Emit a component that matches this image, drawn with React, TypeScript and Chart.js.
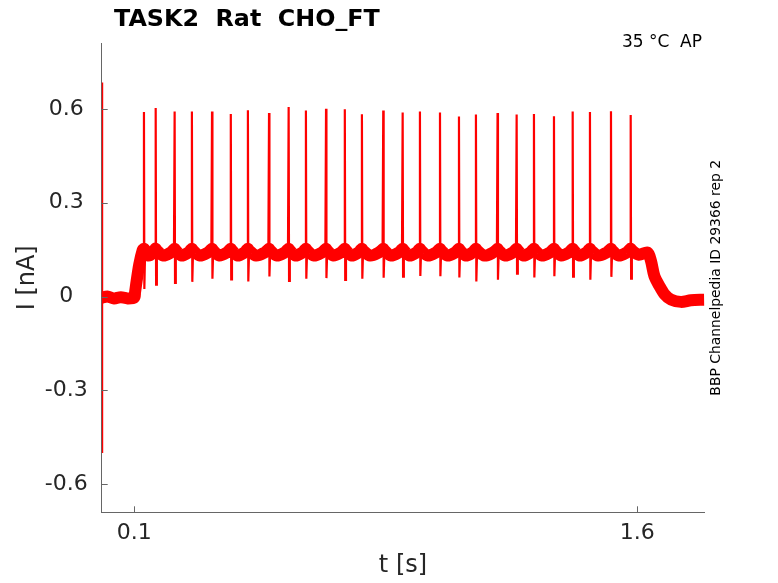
import React, { useEffect, useRef } from 'react';
import { Chart, registerables } from 'chart.js';

Chart.register(...registerables);

// ---- axis ranges & ticks ----
const X_MIN = 0.003;
const X_MAX = 1.8;
const Y_MIN = -0.69;
const Y_MAX = 0.81;
const xTickValues = [0.1, 1.6];
const yTickValues = [0.6, 0.3, 0, -0.3, -0.6];

// ---- action potential spikes: times [s], peak and trough currents [nA] ----
const spikeTimes = [
  0.129, 0.164, 0.2205, 0.272, 0.332, 0.388, 0.439, 0.502, 0.5605, 0.612, 0.672, 0.728, 0.779,
  0.8426, 0.9005, 0.952, 1.0118, 1.0684, 1.119, 1.1835, 1.2404, 1.292, 1.3517, 1.4075, 1.459,
  1.5217, 1.5805,
];
const spikePeaks = [
  0.59, 0.603, 0.592, 0.592, 0.592, 0.584, 0.596, 0.587, 0.606, 0.595, 0.601, 0.599, 0.583,
  0.595, 0.589, 0.592, 0.589, 0.576, 0.582, 0.587, 0.582, 0.584, 0.577, 0.592, 0.59, 0.593,
  0.581,
];
const spikeTroughs = [
  0.024, 0.038, 0.044, 0.047, 0.057, 0.055, 0.048, 0.064, 0.05, 0.057, 0.059, 0.053, 0.057,
  0.06, 0.064, 0.066, 0.065, 0.061, 0.048, 0.054, 0.073, 0.061, 0.065, 0.064, 0.054, 0.063,
  0.057,
];

// ---- slow current trace (baseline band) ----
const preStepTimes = [0.003, 0.02, 0.04, 0.06, 0.08, 0.1];
const preStepValues = [-0.004, 0.0, -0.006, -0.002, -0.006, -0.003];
const stepUpTimes = [0.1024, 0.1072, 0.115, 0.1251];
const stepUpValues = [0.013, 0.05, 0.103, 0.148];
const endTimes = [1.586, 1.605, 1.631, 1.641, 1.651, 1.666, 1.681, 1.701, 1.73, 1.76, 1.8];
const endValues = [0.146, 0.134, 0.141, 0.114, 0.066, 0.034, 0.008, -0.01, -0.017, -0.012, -0.01];
// levels of the inter-spike waveform
const AFTER_SPIKE = 0.147;
const DIP = 0.131;
const PRE_SPIKE = 0.141;
const BUMP = 0.153;

// ---- initial capacitive transient ----
const transientTimes = [0.0045, 0.005, 0.0056];
const transientValues = [0.685, -0.5, 0.0];

const RED = '#ff0000';
const FONT = 'DejaVu Sans';

function buildBand() {
  const pts: { x: number; y: number }[] = [];
  preStepTimes.forEach((t, i) => pts.push({ x: t, y: preStepValues[i] }));
  stepUpTimes.forEach((t, i) => pts.push({ x: t, y: stepUpValues[i] }));
  for (let i = 0; i < spikeTimes.length; i++) {
    const t = spikeTimes[i];
    pts.push({ x: t, y: BUMP });
    if (i < spikeTimes.length - 1) {
      const tn = spikeTimes[i + 1];
      const gap = tn - t;
      pts.push({ x: t + 0.004, y: AFTER_SPIKE });
      pts.push({ x: t + gap * 0.4, y: DIP });
      pts.push({ x: tn - gap * 0.2, y: PRE_SPIKE });
      pts.push({ x: tn - 0.003, y: BUMP - 0.003 });
    }
  }
  endTimes.forEach((t, i) => pts.push({ x: t, y: endValues[i] }));
  return pts;
}

function buildSpikes() {
  const pts: { x: number; y: number | null }[] = [];
  spikeTimes.forEach((t, i) => {
    pts.push({ x: t - 0.002, y: BUMP });
    pts.push({ x: t, y: spikePeaks[i] });
    pts.push({ x: t + 0.0012, y: spikeTroughs[i] });
    pts.push({ x: t + 0.0035, y: AFTER_SPIKE });
    pts.push({ x: t + 0.004, y: null });
  });
  return pts;
}

const overlayPlugin = {
  id: 'overlay',
  afterDraw(chart: any) {
    const { ctx, chartArea, scales } = chart;
    const xs = scales.x;
    const ys = scales.y;
    ctx.save();
    // inward tick marks
    ctx.strokeStyle = '#666666';
    ctx.lineWidth = 1;
    ctx.beginPath();
    xTickValues.forEach((v) => {
      const px = Math.round(xs.getPixelForValue(v)) + 0.5;
      ctx.moveTo(px, chartArea.bottom);
      ctx.lineTo(px, chartArea.bottom - 6);
    });
    yTickValues.forEach((v) => {
      const py = Math.round(ys.getPixelForValue(v)) + 0.5;
      ctx.moveTo(chartArea.left, py);
      ctx.lineTo(chartArea.left + 6, py);
    });
    ctx.stroke();

    // title
    ctx.fillStyle = '#000000';
    ctx.textBaseline = 'alphabetic';
    ctx.textAlign = 'left';
    ctx.font = `bold 23.8px "${FONT}"`;
    ctx.fillText('TASK2  Rat  CHO_FT', 114, 26);

    // temperature label
    ctx.font = `17px "${FONT}"`;
    ctx.textAlign = 'right';
    ctx.fillText('35 °C  AP', 702, 47);

    // right rotated label
    ctx.translate(716.5, (chartArea.top + chartArea.bottom) / 2);
    ctx.rotate(-Math.PI / 2);
    ctx.textAlign = 'center';
    ctx.textBaseline = 'middle';
    ctx.font = `13.9px "${FONT}"`;
    ctx.fillText('BBP Channelpedia ID 29366 rep 2', 0, 0);
    ctx.restore();
  },
};

export default function App() {
  const ref = useRef<HTMLCanvasElement | null>(null);

  useEffect(() => {
    if (!ref.current) return;
    const chart = new Chart(ref.current, {
      type: 'line',
      data: {
        datasets: [
          {
            data: buildBand(),
            borderColor: RED,
            borderWidth: 12,
            pointRadius: 0,
            tension: 0.3,
            borderJoinStyle: 'round',
            fill: false,
          },
          {
            data: buildSpikes(),
            borderColor: RED,
            borderWidth: 2.2,
            pointRadius: 0,
            tension: 0,
            spanGaps: false,
            fill: false,
          },
          {
            data: transientTimes.map((t, i) => ({ x: t, y: transientValues[i] })),
            borderColor: RED,
            borderWidth: 1.5,
            pointRadius: 0,
            tension: 0,
            fill: false,
          },
        ],
      },
      options: {
        responsive: false,
        animation: false,
        events: [],
        layout: { padding: { left: 0, top: 43.3, right: 73.7, bottom: 0 } },
        plugins: {
          legend: { display: false },
          title: { display: false },
          tooltip: { enabled: false },
        },
        scales: {
          x: {
            type: 'linear',
            position: 'bottom',
            min: X_MIN,
            max: X_MAX,
            afterBuildTicks: (s: any) => {
              s.ticks = xTickValues.map((v) => ({ value: v }));
            },
            afterFit: (s: any) => {
              s.height = 70.7;
            },
            ticks: {
              autoSkip: false,
              maxRotation: 0,
              padding: 7.5,
              color: '#262626',
              font: { family: FONT, size: 22 },
              callback: (v: any) => String(v),
            },
            grid: { display: false, drawTicks: false },
            border: { display: true, color: '#666666', width: 1 },
            title: {
              display: true,
              text: 't [s]',
              color: '#262626',
              font: { family: FONT, size: 24 },
              padding: { top: 0, bottom: 2.6 },
            },
          },
          y: {
            type: 'linear',
            min: Y_MIN,
            max: Y_MAX,
            afterBuildTicks: (s: any) => {
              s.ticks = yTickValues.map((v) => ({ value: v }));
            },
            afterFit: (s: any) => {
              s.width = 101.7;
            },
            ticks: {
              autoSkip: false,
              crossAlign: 'center',
              padding: 14,
              color: '#262626',
              font: { family: FONT, size: 22 },
              callback: (v: any) => String(v),
            },
            grid: { display: false, drawTicks: false },
            border: { display: true, color: '#666666', width: 1 },
            title: {
              display: true,
              text: 'I [nA]',
              color: '#262626',
              font: { family: FONT, size: 24 },
              padding: { top: 13.6, bottom: 0 },
            },
          },
        },
      },
      plugins: [overlayPlugin],
    } as any);
    return () => chart.destroy();
  }, []);

  return (
    <div style={{ position: 'absolute', left: 0, top: 0, width: 778, height: 583, background: '#ffffff' }}>
      <canvas ref={ref} width={778} height={583} style={{ width: 778, height: 583, display: 'block' }} />
    </div>
  );
}
